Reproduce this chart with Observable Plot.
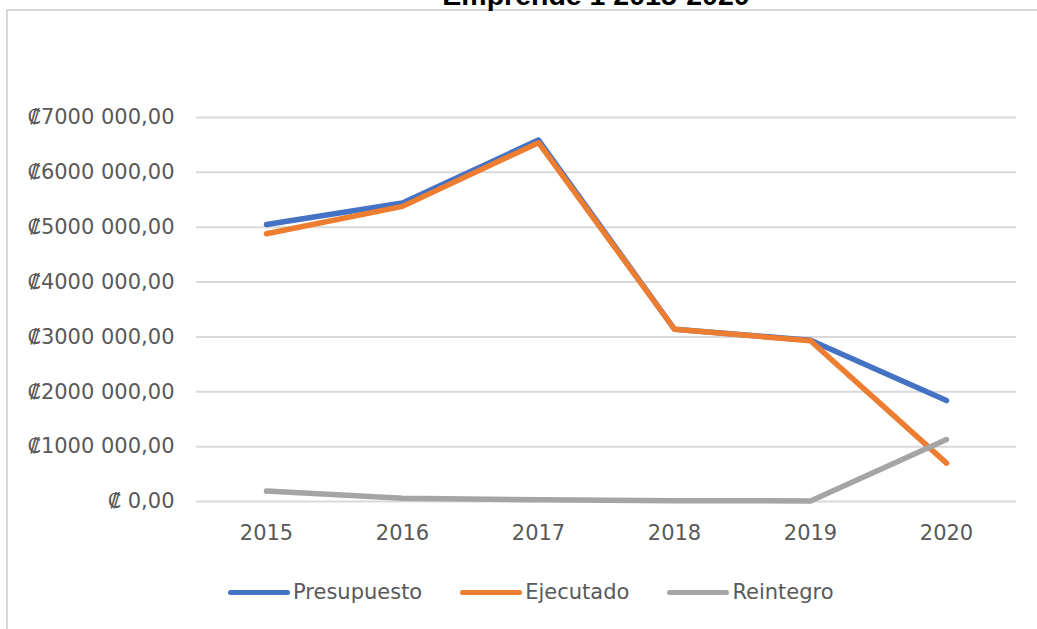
<!DOCTYPE html>
<html>
<head>
<meta charset="utf-8">
<script src="https://cdn.jsdelivr.net/npm/d3@7"></script>
<script src="https://cdn.jsdelivr.net/npm/@observablehq/plot@0.6"></script>
<style>
  html, body { margin: 0; padding: 0; background: #fff; }
  #wrap { position: relative; width: 1037px; height: 629px; overflow: hidden; background: #fff; }
  #frame { position: absolute; left: 6px; top: 9px; width: 1100px; height: 700px;
           border-top: 2px solid #d9d9d9; border-left: 2px solid #d9d9d9; box-sizing: border-box; }
  #title { position: absolute; left: 0; width: 1192px; top: -19px; text-align: center;
           font-family: "Liberation Sans", Arial, sans-serif; font-weight: bold; font-size: 28.5px;
           line-height: 1; color: #000; white-space: nowrap; }
  #chart { position: absolute; left: 0; top: 0; }
  #legend { position: absolute; left: 228px; top: 580px; display: flex; align-items: center;
            font-family: "DejaVu Sans", sans-serif; font-size: 21px; color: #595959; }
  .item { display: flex; align-items: center; margin-right: 38px; }
  .sw { width: 62px; height: 5px; border-radius: 3px; margin-right: 3px; }
</style>
</head>
<body>
<div id="wrap">
  <div id="frame"></div>
  <div id="title"></div>
  <div id="chart"></div>
  <div id="legend"></div>
</div>
<script>
const titleText = "Emprende 1 2015-2020";
const years = ["2015", "2016", "2017", "2018", "2019", "2020"];
const seriesNames = ["Presupuesto", "Ejecutado", "Reintegro"];
const seriesColors = ["#4472C4", "#ED7D31", "#A5A5A5"];
const presupuesto = [5050000, 5440000, 6590000, 3140000, 2940000, 1840000];
const ejecutado   = [4880000, 5380000, 6540000, 3140000, 2930000, 700000];
const reintegro   = [190000, 60000, 30000, 15000, 10000, 1130000];
const yTicks = [0, 1000000, 2000000, 3000000, 4000000, 5000000, 6000000, 7000000];
const yTickLabels = ["₡ 0,00", "₡1000 000,00", "₡2000 000,00", "₡3000 000,00",
                     "₡4000 000,00", "₡5000 000,00", "₡6000 000,00", "₡7000 000,00"];

const valuesBySeries = [presupuesto, ejecutado, reintegro];
const rows = [];
seriesNames.forEach((s, i) => {
  years.forEach((y, j) => rows.push({ series: s, year: y, value: valuesBySeries[i][j] }));
});

document.getElementById("title").textContent = titleText;

const chart = Plot.plot({
  width: 1037,
  height: 560,
  marginLeft: 196,
  marginRight: 21,
  marginTop: 117,
  marginBottom: 59,
  style: { fontFamily: "DejaVu Sans, sans-serif", fontSize: "21px", color: "#595959", background: "transparent" },
  x: { type: "point", domain: years, padding: 0.5, label: null },
  y: { domain: [0, 7000000], label: null },
  color: { domain: seriesNames, range: seriesColors },
  marks: [
    Plot.gridY(yTicks, { stroke: "#d9d9d9", strokeOpacity: 1, strokeWidth: 2 }),
    Plot.axisY(yTicks, { tickSize: 0, tickPadding: 22, tickFormat: (d) => yTickLabels[yTicks.indexOf(d)],
                         fontSize: 21, fill: "#595959" }),
    Plot.axisX(years, { tickSize: 0, tickPadding: 24, fontSize: 21, fill: "#595959" }),
    Plot.line(rows, { x: "year", y: "value", z: "series", stroke: "series",
                      strokeWidth: 5.5, strokeLinecap: "round", strokeLinejoin: "round" })
  ]
});
document.getElementById("chart").appendChild(chart);

const legend = document.getElementById("legend");
seriesNames.forEach((s, i) => {
  const item = document.createElement("div");
  item.className = "item";
  const sw = document.createElement("div");
  sw.className = "sw";
  sw.style.background = seriesColors[i];
  const t = document.createElement("span");
  t.textContent = s;
  item.appendChild(sw);
  item.appendChild(t);
  legend.appendChild(item);
});
</script>
</body>
</html>
